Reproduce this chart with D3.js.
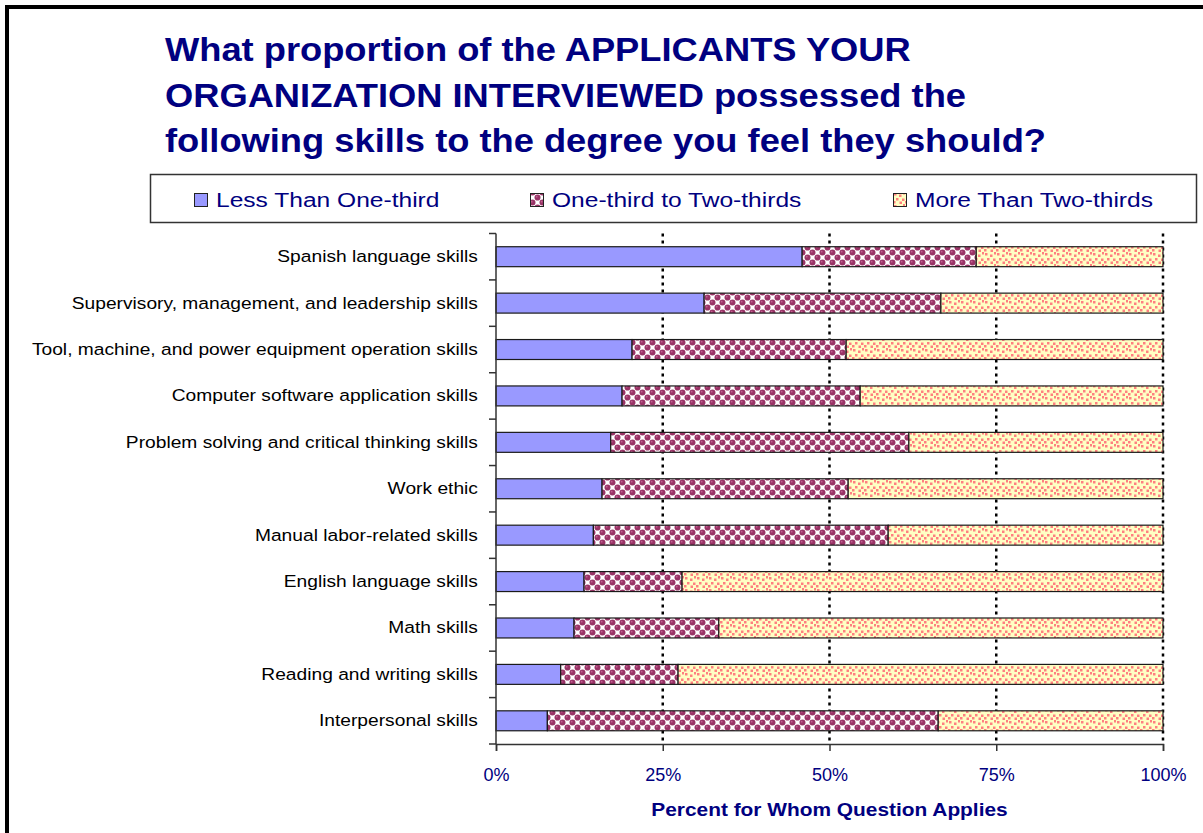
<!DOCTYPE html>
<html>
<head>
<meta charset="utf-8">
<script src="https://cdn.jsdelivr.net/npm/d3@7"></script>
<style>
  body { margin: 0; background: #fff; }
  svg { display: block; font-family: Arial, "Liberation Sans", sans-serif; }
</style>
</head>
<body>
<div id="chart"></div>
<script>
// Data (percent of applicants)
const categories = [
  "Spanish language skills",
  "Supervisory, management, and leadership skills",
  "Tool, machine, and power equipment operation skills",
  "Computer software application skills",
  "Problem solving and critical thinking skills",
  "Work ethic",
  "Manual labor-related skills",
  "English language skills",
  "Math skills",
  "Reading and writing skills",
  "Interpersonal skills",
]
const lessThanOneThird = [45.9, 31.2, 20.4, 18.9, 17.2, 15.9, 14.6, 13.2, 11.7, 9.7, 7.7]
const oneThirdToTwoThirds = [26.1, 35.5, 32.1, 35.7, 44.7, 36.9, 44.2, 14.7, 21.7, 17.6, 58.6]
const moreThanTwoThirds = [28.0, 33.3, 47.5, 45.4, 38.1, 47.2, 41.2, 72.1, 66.6, 72.7, 33.7]

const seriesNames = ["Less Than One-third", "One-third to Two-thirds", "More Than Two-thirds"]
const xTicks = [0, 25, 50, 75, 100]
const titleLines = [
  "What proportion of the APPLICANTS YOUR",
  "ORGANIZATION INTERVIEWED possessed the",
  "following skills to the degree you feel they should?",
]
const xAxisTitle = "Percent for Whom Question Applies"

const navy = "#000080"
// the original picture is a bit stretched sideways, so text is widened to match
const stretch = 1.13

drawChart()

function drawChart() {
  const width = 1203,
    height = 833

  const svg = d3.select("#chart").append("svg").attr("width", width).attr("height", height)

  // Patterns that imitate the old spreadsheet fills
  const defs = svg.append("defs")

  const dots = defs
    .append("pattern")
    .attr("id", "pat-mid")
    .attr("patternUnits", "userSpaceOnUse")
    .attr("width", 10)
    .attr("height", 10)
  dots.append("rect").attr("width", 10).attr("height", 10).attr("fill", "#fff")
  ;[[2.5, 2.5], [7.5, 7.5], [7.5, -2.5], [-2.5, 7.5], [12.5, 2.5], [2.5, 12.5]].forEach(([cx, cy]) => {
    dots.append("circle").attr("cx", cx).attr("cy", cy).attr("r", 3).attr("fill", "#993366")
    dots.append("circle").attr("cx", cx - 0.8).attr("cy", cy - 0.8).attr("r", 0.9).attr("fill", "#c06090")
  })

  const speckle = defs
    .append("pattern")
    .attr("id", "pat-high")
    .attr("patternUnits", "userSpaceOnUse")
    .attr("width", 12)
    .attr("height", 12)
  speckle.append("rect").attr("width", 12).attr("height", 12).attr("fill", "#ffffc4")
  ;[[1, 1], [6, 2.5], [3, 6], [9, 6.5], [6.5, 9.5], [0, 9], [10, 0]].forEach(([x, y]) => {
    speckle.append("rect").attr("x", x).attr("y", y).attr("width", 2.5).attr("height", 2.5).attr("fill", "#ff7f80")
  })

  const fills = ["#9999ff", "url(#pat-mid)", "url(#pat-high)"]

  // Outer frame (only top and left edges are visible in the picture)
  svg
    .append("path")
    .attr("d", `M7,${height} L7,7 L${width},7`)
    .attr("fill", "none")
    .attr("stroke", "#000")
    .attr("stroke-width", 4)

  // Title
  svg
    .append("g")
    .selectAll("text")
    .data(titleLines)
    .enter()
    .append("text")
    .attr("transform", (d, i) => `translate(165,${61 + i * 45.5}) scale(1.1,1)`)
    .attr("fill", navy)
    .attr("font-size", 33)
    .attr("font-weight", "bold")
    .text((d) => d)

  // Legend
  const legend = svg.append("g")
  legend
    .append("rect")
    .attr("x", 150.5)
    .attr("y", 174.5)
    .attr("width", 1046)
    .attr("height", 48)
    .attr("fill", "#fff")
    .attr("stroke", "#333")
    .attr("stroke-width", 1.5)

  const legendX = [194, 530, 893]
  const item = legend
    .selectAll(".item")
    .data(seriesNames)
    .enter()
    .append("g")
    .attr("class", "item")
    .attr("transform", (d, i) => `translate(${legendX[i]},0)`)
  item
    .append("rect")
    .attr("x", 0.5)
    .attr("y", 193.5)
    .attr("width", 13)
    .attr("height", 13)
    .attr("fill", (d, i) => fills[i])
    .attr("stroke", "#222")
  item
    .append("text")
    .attr("transform", "translate(22,207) scale(1.17,1)")
    .attr("fill", navy)
    .attr("font-size", 21)
    .text((d) => d)

  // Scales
  const x = d3.scaleLinear().domain([0, 100]).range([496, 1163])
  const y = d3.scaleBand().domain(categories).range([233.5, 744]).paddingInner(0.57).paddingOuter(0.285)

  // Dotted gridlines behind the bars
  svg
    .append("g")
    .selectAll("line")
    .data(xTicks.slice(1))
    .enter()
    .append("line")
    .attr("x1", (d) => x(d))
    .attr("x2", (d) => x(d))
    .attr("y1", 233.5)
    .attr("y2", 744)
    .attr("stroke", "#000")
    .attr("stroke-width", 2.5)
    .attr("stroke-dasharray", "3,4")

  // Stacked bars
  const rows = categories.map((c, i) => ({
    category: c,
    [seriesNames[0]]: lessThanOneThird[i],
    [seriesNames[1]]: oneThirdToTwoThirds[i],
    [seriesNames[2]]: moreThanTwoThirds[i],
  }))
  const stacked = d3.stack().keys(seriesNames)(rows)

  svg
    .append("g")
    .selectAll("g")
    .data(stacked)
    .enter()
    .append("g")
    .attr("fill", (d, i) => fills[i])
    .selectAll("rect")
    .data((d) => d)
    .enter()
    .append("rect")
    .attr("x", (d) => x(d[0]))
    .attr("y", (d) => y(d.data.category))
    .attr("width", (d) => x(d[1]) - x(d[0]))
    .attr("height", y.bandwidth())
    .attr("stroke", "#1a1a1a")
    .attr("stroke-width", 1.2)

  // Y axis: labels at the band centres, tick marks at the band edges
  const yAxis = svg
    .append("g")
    .attr("transform", `translate(${x(0)},0)`)
    .call(d3.axisLeft(y).tickSize(0).tickPadding(16))
  yAxis.select(".domain").remove()
  yAxis
    .selectAll("text")
    .attr("font-size", 17)
    .attr("fill", "#000")
    .attr("font-family", "Arial, 'Liberation Sans', sans-serif")
    .attr("transform", `scale(${stretch},1)`)

  const step = y.step()
  const edges = categories.map((c) => y(c) - (step - y.bandwidth()) / 2).concat([744])
  svg
    .append("g")
    .selectAll("line")
    .data(edges)
    .enter()
    .append("line")
    .attr("x1", x(0) - 7)
    .attr("x2", x(0))
    .attr("y1", (d) => d)
    .attr("y2", (d) => d)
    .attr("stroke", "#333")
    .attr("stroke-width", 1.5)
  svg
    .append("line")
    .attr("x1", x(0))
    .attr("x2", x(0))
    .attr("y1", 233.5)
    .attr("y2", 744)
    .attr("stroke", "#333")
    .attr("stroke-width", 1.5)

  // X axis
  const xAxis = svg
    .append("g")
    .attr("transform", "translate(0,744)")
    .call(
      d3
        .axisBottom(x)
        .tickValues(xTicks)
        .tickSize(7)
        .tickPadding(17)
        .tickFormat((d) => d + "%"),
    )
  xAxis.select(".domain").attr("stroke", "#333").attr("stroke-width", 1.5)
  xAxis.selectAll(".tick line").attr("stroke", "#333").attr("stroke-width", 1.5)
  xAxis.selectAll("text").attr("font-size", 18).attr("fill", navy).attr("font-family", "Arial, 'Liberation Sans', sans-serif")

  svg
    .append("text")
    .attr("transform", `translate(${x(50)},816) scale(1.16,1)`)
    .attr("text-anchor", "middle")
    .attr("fill", navy)
    .attr("font-size", 18)
    .attr("font-weight", "bold")
    .text(xAxisTitle)
}
</script>
</body>
</html>
